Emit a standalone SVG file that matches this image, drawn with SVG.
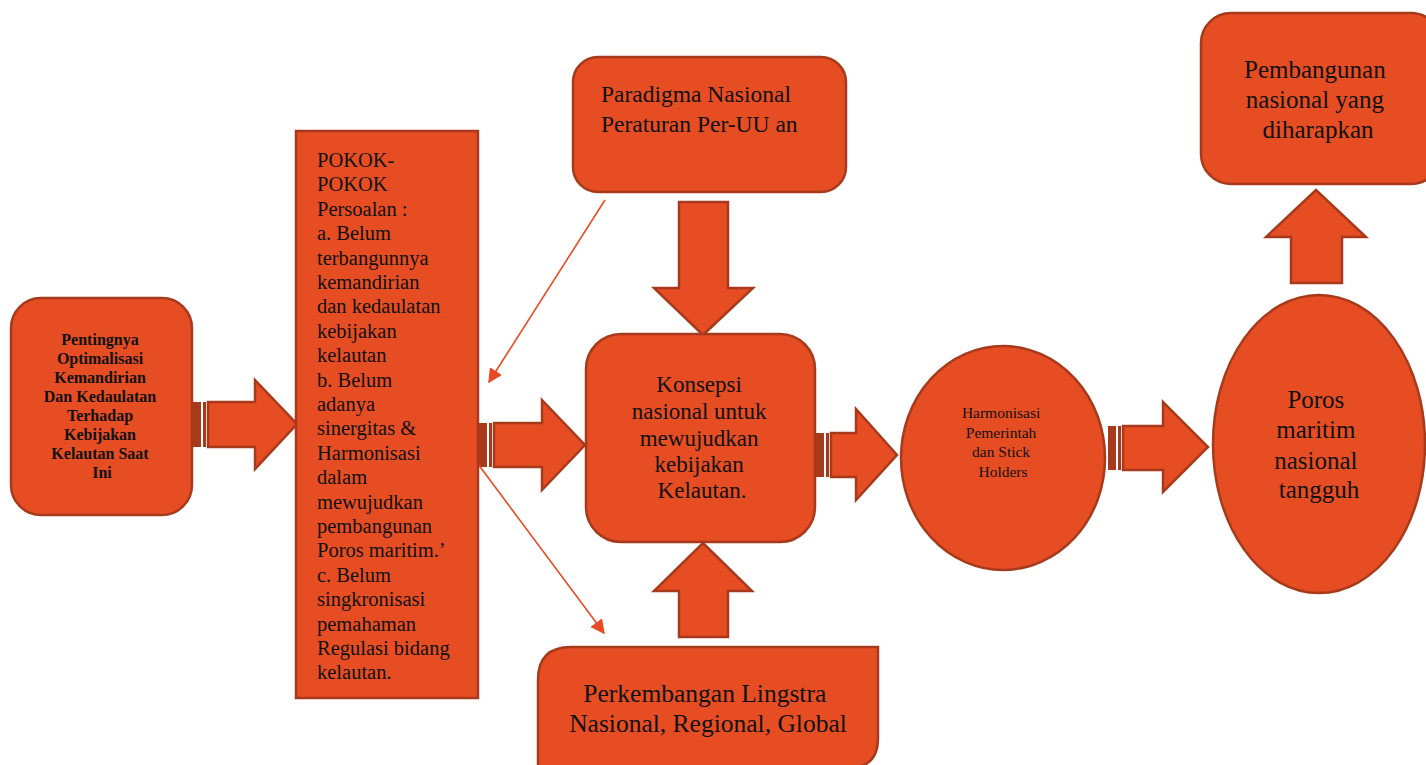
<svg xmlns="http://www.w3.org/2000/svg" width="1426" height="765" viewBox="0 0 1426 765">
<defs>
<style>
.s{fill:#E64D23;stroke:#A83A1C;stroke-width:2.5}
.d{fill:#A83A1C}
.t{font-family:"Liberation Serif","Times New Roman",serif;fill:#111}
.thin{stroke:#E84A27;stroke-width:1.6;fill:none}
</style>
<marker id="ah" viewBox="0 0 10 10" refX="9" refY="5" markerWidth="9" markerHeight="9" orient="auto" markerUnits="strokeWidth">
<path d="M0,0 L10,5 L0,10 z" fill="#E84A27"/>
</marker>
</defs>
<rect width="1426" height="765" fill="#fff"/>

<g id="connectors">
<g>
<rect class="d" x="193" y="402" width="8" height="45"/>
<rect class="d" x="203" y="402" width="3" height="45"/>
<path class="s" d="M208,402 H255 V380 L297,424 L255,469 V447 H208 Z"/>
</g>
<g>
<rect class="d" x="478" y="423" width="9" height="44"/>
<rect class="d" x="489" y="423" width="3" height="44"/>
<path class="s" d="M494,423 H542 V400 L585,445 L542,490 V467 H494 Z"/>
</g>
<g>
<rect class="d" x="816" y="433" width="8" height="44"/>
<rect class="d" x="826" y="433" width="3" height="44"/>
<path class="s" d="M831,433 H856 V409 L897,455 L856,500 V477 H831 Z"/>
</g>
<g>
<rect class="d" x="1108" y="426" width="8" height="44"/>
<rect class="d" x="1118" y="426" width="3" height="44"/>
<path class="s" d="M1123,426 H1163 V402 L1208,447 L1163,492 V470 H1123 Z"/>
</g>
<path class="s" d="M679,202 H728 V288 H753 L703,335 L654,288 H679 Z"/>
<path class="s" d="M679,637 H728 V591 H752 L703,543 L654,591 H679 Z"/>
<path class="s" d="M1291,283 H1342 V237 H1366 L1316,190 L1266,237 H1291 Z"/>
<line class="thin" x1="605" y1="200" x2="489" y2="382" marker-end="url(#ah)"/>
<line class="thin" x1="478" y1="464" x2="604" y2="633" marker-end="url(#ah)"/>
</g>

<g id="n1">
<rect class="s" x="11" y="298" width="181" height="217" rx="30"/>
<text class="t" font-size="16" font-weight="bold" text-anchor="middle">
<tspan x="102" y="345">Pentingnya</tspan>
<tspan x="102" y="364">Optimalisasi</tspan>
<tspan x="102" y="383">Kemandirian</tspan>
<tspan x="102" y="402">Dan Kedaulatan</tspan>
<tspan x="102" y="421">Terhadap</tspan>
<tspan x="102" y="440">Kebijakan</tspan>
<tspan x="102" y="459">Kelautan Saat</tspan>
<tspan x="102" y="478">Ini</tspan>
</text>
</g>

<g id="n2">
<rect class="s" x="296" y="131" width="182" height="567"/>
<text class="t" font-size="20.5">
<tspan x="317" y="167">POKOK-</tspan>
<tspan x="317" y="191.4">POKOK</tspan>
<tspan x="317" y="215.8">Persoalan :</tspan>
<tspan x="317" y="240.2">a. Belum</tspan>
<tspan x="317" y="264.6">terbangunnya</tspan>
<tspan x="317" y="289">kemandirian</tspan>
<tspan x="317" y="313.4">dan kedaulatan</tspan>
<tspan x="317" y="337.8">kebijakan</tspan>
<tspan x="317" y="362.2">kelautan</tspan>
<tspan x="317" y="386.6">b. Belum</tspan>
<tspan x="317" y="411">adanya</tspan>
<tspan x="317" y="435.4">sinergitas &amp;</tspan>
<tspan x="317" y="459.8">Harmonisasi</tspan>
<tspan x="317" y="484.2">dalam</tspan>
<tspan x="317" y="508.6">mewujudkan</tspan>
<tspan x="317" y="533">pembangunan</tspan>
<tspan x="317" y="557.4">Poros maritim.’</tspan>
<tspan x="317" y="581.8">c. Belum</tspan>
<tspan x="317" y="606.2">singkronisasi</tspan>
<tspan x="317" y="630.6">pemahaman</tspan>
<tspan x="317" y="655">Regulasi bidang</tspan>
<tspan x="317" y="679.4">kelautan.</tspan>
</text>
</g>

<g id="n3">
<rect class="s" x="573" y="57" width="273" height="135" rx="25"/>
<text class="t" font-size="23.5">
<tspan x="601" y="102">Paradigma Nasional</tspan>
<tspan x="601" y="132">Peraturan Per-UU an</tspan>
</text>
</g>

<g id="n4">
<rect class="s" x="586" y="334" width="229" height="208" rx="35"/>
<text class="t" font-size="23" text-anchor="middle">
<tspan x="702" y="392">Konsepsi</tspan>
<tspan x="702" y="419">nasional untuk</tspan>
<tspan x="702" y="446">mewujudkan</tspan>
<tspan x="702" y="472">kebijakan</tspan>
<tspan x="702" y="498">Kelautan.</tspan>
</text>
</g>

<g id="n5">
<path class="s" d="M538,680 Q538,647 571,647 H878 V738 Q878,768 848,768 H538 Z"/>
<text class="t" font-size="25.5" text-anchor="middle">
<tspan x="708" y="702">Perkembangan Lingstra</tspan>
<tspan x="708" y="732">Nasional, Regional, Global</tspan>
</text>
</g>

<g id="n6">
<ellipse class="s" cx="1003" cy="458" rx="102" ry="112"/>
<text class="t" font-size="15.5" text-anchor="middle">
<tspan x="1003" y="418">Harmonisasi</tspan>
<tspan x="1003" y="438">Pemerintah</tspan>
<tspan x="1003" y="457">dan Stick</tspan>
<tspan x="1003" y="477">Holders</tspan>
</text>
</g>

<g id="n7">
<ellipse class="s" cx="1319" cy="444" rx="106" ry="149"/>
<text class="t" font-size="25" text-anchor="middle">
<tspan x="1319" y="408">Poros</tspan>
<tspan x="1319" y="438">maritim</tspan>
<tspan x="1319" y="469">nasional</tspan>
<tspan x="1319" y="498">tangguh</tspan>
</text>
</g>

<g id="n8">
<rect class="s" x="1201" y="13" width="240" height="171" rx="30"/>
<text class="t" font-size="25" text-anchor="middle">
<tspan x="1318" y="78">Pembangunan</tspan>
<tspan x="1318" y="108">nasional yang</tspan>
<tspan x="1318" y="138">diharapkan</tspan>
</text>
</g>
</svg>
